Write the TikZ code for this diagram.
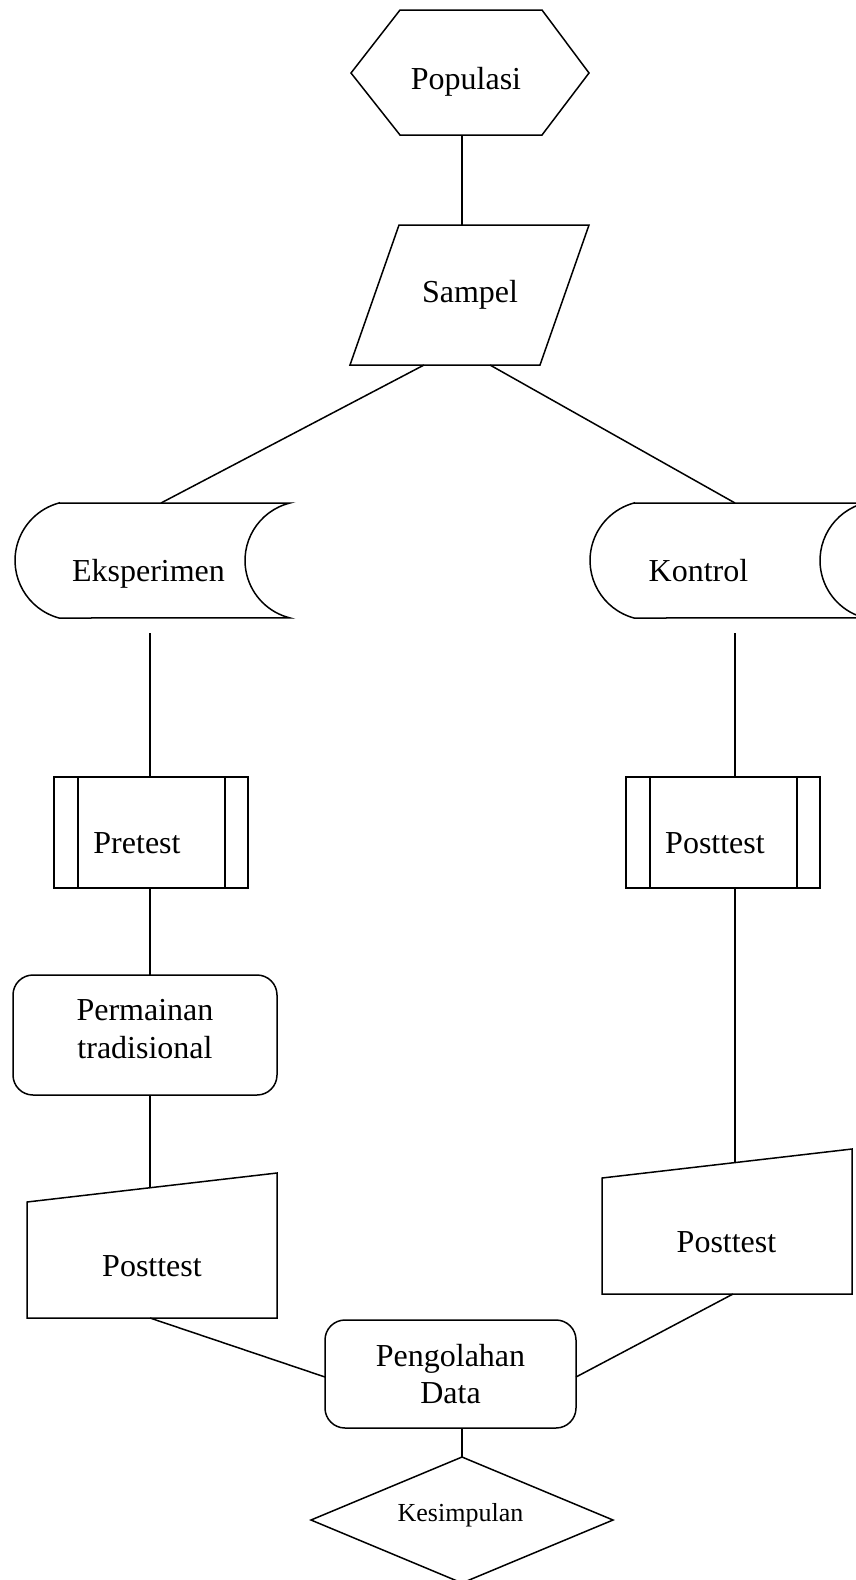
\documentclass[tikz,border=0pt]{standalone}
\usepackage{fontspec}
\setmainfont{Liberation Serif}
\begin{document}
\begin{tikzpicture}[x=1pt,y=-1pt,
  shp/.style={draw=black,line width=1.5pt,line join=miter},
  conn/.style={draw=black,line width=1.5pt},
  txt/.style={inner sep=0pt,font=\fontsize{32}{38}\selectfont,align=center},
  txtsmall/.style={inner sep=0pt,font=\fontsize{26}{30}\selectfont},
  procbox/.style={shp,rounded corners=20pt,inner sep=0pt}]
\useasboundingbox (0,0) rectangle (855,1580);
% Populasi (hexagon)
\draw[shp] (351,73) -- (400,10) -- (542,10) -- (589,73) -- (542,135) -- (400,135) -- cycle;
\node[txt,anchor=base] (populasi) at (466,89) {Populasi};
% Sampel (parallelogram)
\draw[shp] (399,225) -- (589,225) -- (540,365) -- (350,365) -- cycle;
\node[txt,anchor=base] (sampel) at (470,302) {Sampel};
% Eksperimen (stored data)
\draw[shp] (59,503) -- (290,503) arc[start angle=103.9,end angle=256.1,radius=59.2pt]
  -- (59,618) arc[start angle=254.8,end angle=105.2,radius=59.6pt] -- cycle;
\node[txt,anchor=base] (eksperimen) at (148.5,581) {Eksperimen};
% Kontrol (stored data)
\draw[shp] (634,503) -- (865,503) arc[start angle=103.9,end angle=256.1,radius=59.2pt]
  -- (634,618) arc[start angle=254.8,end angle=105.2,radius=59.6pt] -- cycle;
\node[txt,anchor=base] (kontrol) at (698.5,581) {Kontrol};
% Pretest (predefined process)
\draw[shp] (54,777) rectangle (248,888);
\draw[shp] (78,777) -- (78,888);
\draw[shp] (225,777) -- (225,888);
\node[txt,anchor=base] (pretest) at (137,853) {Pretest};
% Posttest right (predefined process)
\draw[shp] (626,777) rectangle (820,888);
\draw[shp] (650,777) -- (650,888);
\draw[shp] (797,777) -- (797,888);
\node[txt,anchor=base] (posttestA) at (715,853) {Posttest};
% Permainan tradisional
\node[procbox,minimum width=264pt,minimum height=120pt] (permainan) at (145,1035) {};
\node[txt] (permainantxt) at (145,1029) {Permainan\\tradisional};
% Posttest left (manual input)
\draw[shp] (27,1202) -- (277,1173) -- (277,1318) -- (27,1318) -- cycle;
\node[txt,anchor=base] (posttestL) at (152,1276) {Posttest};
% Posttest right (manual input)
\draw[shp] (602,1178) -- (852,1149) -- (852,1294) -- (602,1294) -- cycle;
\node[txt,anchor=base] (posttestR) at (726.5,1252) {Posttest};
% Pengolahan Data
\node[procbox,minimum width=251pt,minimum height=108pt,font=\fontsize{32}{37}\selectfont,align=center] (olah) at (450.5,1374) {Pengolahan\\Data};
% Kesimpulan (decision)
\draw[shp] (462,1457) -- (613,1520) -- (462,1583) -- (311,1520) -- cycle;
\node[txtsmall,anchor=base] (kesimpulan) at (460.5,1521) {Kesimpulan};
% connector end points
\coordinate (popB) at (462,135);
\coordinate (samT) at (462,225);
\coordinate (samBL) at (424,365);
\coordinate (samBR) at (490,365);
\coordinate (eksT) at (161,503);
\coordinate (konT) at (735,503);
\coordinate (eksB) at (150,633);
\coordinate (konB) at (735,633);
\coordinate (preT) at (150,777);
\coordinate (preB) at (150,888);
\coordinate (posAT) at (735,777);
\coordinate (posAB) at (735,888);
\coordinate (perB) at (150,1095);
\coordinate (perT) at (150,975);
\coordinate (posLT) at (150,1187.5);
\coordinate (posLB) at (150,1318);
\coordinate (posRT) at (735,1162.5);
\coordinate (posRB) at (733,1294);
\coordinate (olahL) at (325,1377);
\coordinate (olahR) at (576,1377);
\coordinate (olahB) at (462,1428);
\coordinate (kesT) at (462,1457);
% connectors
\draw[conn] (popB) -- (samT);
\draw[conn] (samBL) -- (eksT);
\draw[conn] (samBR) -- (konT);
\draw[conn] (eksB) -- (preT);
\draw[conn] (konB) -- (posAT);
\draw[conn] (preB) -- (perT);
\draw[conn] (perB) -- (posLT);
\draw[conn] (posAB) -- (posRT);
\draw[conn] (posLB) -- (olahL);
\draw[conn] (posRB) -- (olahR);
\draw[conn] (olahB) -- (kesT);
\end{tikzpicture}
\end{document}
